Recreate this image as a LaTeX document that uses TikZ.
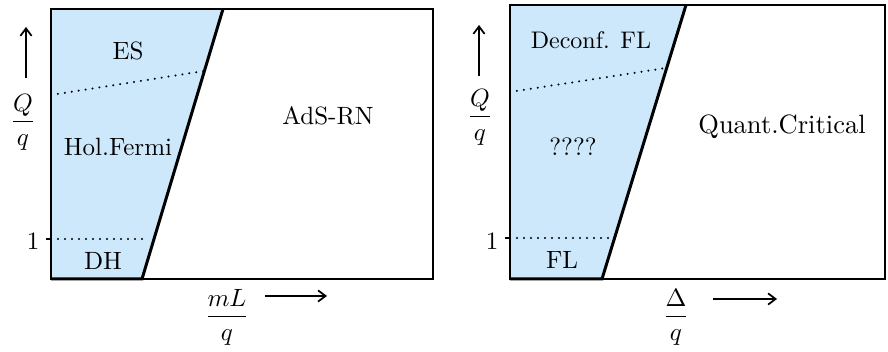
\documentclass[tikz,border=0pt]{standalone}
\usetikzlibrary{arrows.meta}
\definecolor{phaseblue}{RGB}{206,232,251}
\tikzset{
  px/.style={x=0.4pt,y=-0.4pt},
  frame/.style={line width=0.8pt},
  edge/.style={line width=1.2pt,line join=miter},
  mydots/.style={line width=0.9pt,line cap=round,dash pattern=on 0pt off 2.8pt},
  lab/.style={inner sep=0pt,font=\fontsize{10}{12}\selectfont},
  axarrow/.style={line width=0.7pt,-{Straight Barb[length=3pt,width=4.5pt]}},
}
\begin{document}
\begin{tikzpicture}[px]
\useasboundingbox (0,0) rectangle (888,352);
% ---------- left panel ----------
\fill[phaseblue] (51,9) -- (223,9) -- (142,279) -- (51,279) -- cycle;
\draw[frame] (51,9) rectangle (433,279);
\draw[edge] (51,279) -- (142,279) -- (223,9);
\draw[mydots] (51,95) -- (204,71);
\draw[mydots] (51,239) -- (148,239);
\draw[frame] (46,239) -- (51,239);
\node[lab] (es) at (128,51) {ES};
\node[lab] (hf) at (118,147) {Hol.Fermi};
\node[lab] (dh) at (103,261) {DH};
\node[lab] (ads) at (328,116) {AdS-RN};
\node[lab] (oneL) at (33,241) {1};
\node[lab,anchor=base] (qL) at (23,128.25) {$\displaystyle\frac{Q}{q}$};
\coordinate (yLs) at (26,78);
\coordinate (yLe) at (26,27);
\draw[axarrow] (yLs) -- (yLe);
\node[lab,anchor=base] (mL) at (227,323.25) {$\displaystyle\frac{mL}{q}$};
\coordinate (xLs) at (265,296);
\coordinate (xLe) at (327,296);
\draw[axarrow] (xLs) -- (xLe);
% ---------- right panel ----------
\fill[phaseblue] (510,5) -- (686,5) -- (602,279) -- (510,279) -- cycle;
\draw[frame] (510,5) rectangle (885,279);
\draw[edge] (510,279) -- (602,279) -- (686,5);
\draw[mydots] (510,92) -- (666,68);
\draw[mydots] (510,238) -- (610,238);
\draw[frame] (505,238) -- (510,238);
\node[lab,font=\fontsize{9.6}{12}\selectfont] (dfl) at (591,40) {Deconf. FL};
\node[lab] (qm) at (573,147) {????};
\node[lab] (fl) at (562,260) {FL};
\node[lab,font=\fontsize{10.6}{12}\selectfont] (qc) at (782,127) {Quant.Critical};
\node[lab] (oneR) at (492,241) {1};
\node[lab,anchor=base] (qR) at (480,123.25) {$\displaystyle\frac{Q}{q}$};
\coordinate (yRs) at (479,76);
\coordinate (yRe) at (479,25);
\draw[axarrow] (yRs) -- (yRe);
\node[lab,anchor=base] (dq) at (676,323.25) {$\displaystyle\frac{\Delta}{q}$};
\coordinate (xRs) at (713,299);
\coordinate (xRe) at (777,299);
\draw[axarrow] (xRs) -- (xRe);
\end{tikzpicture}
\end{document}
